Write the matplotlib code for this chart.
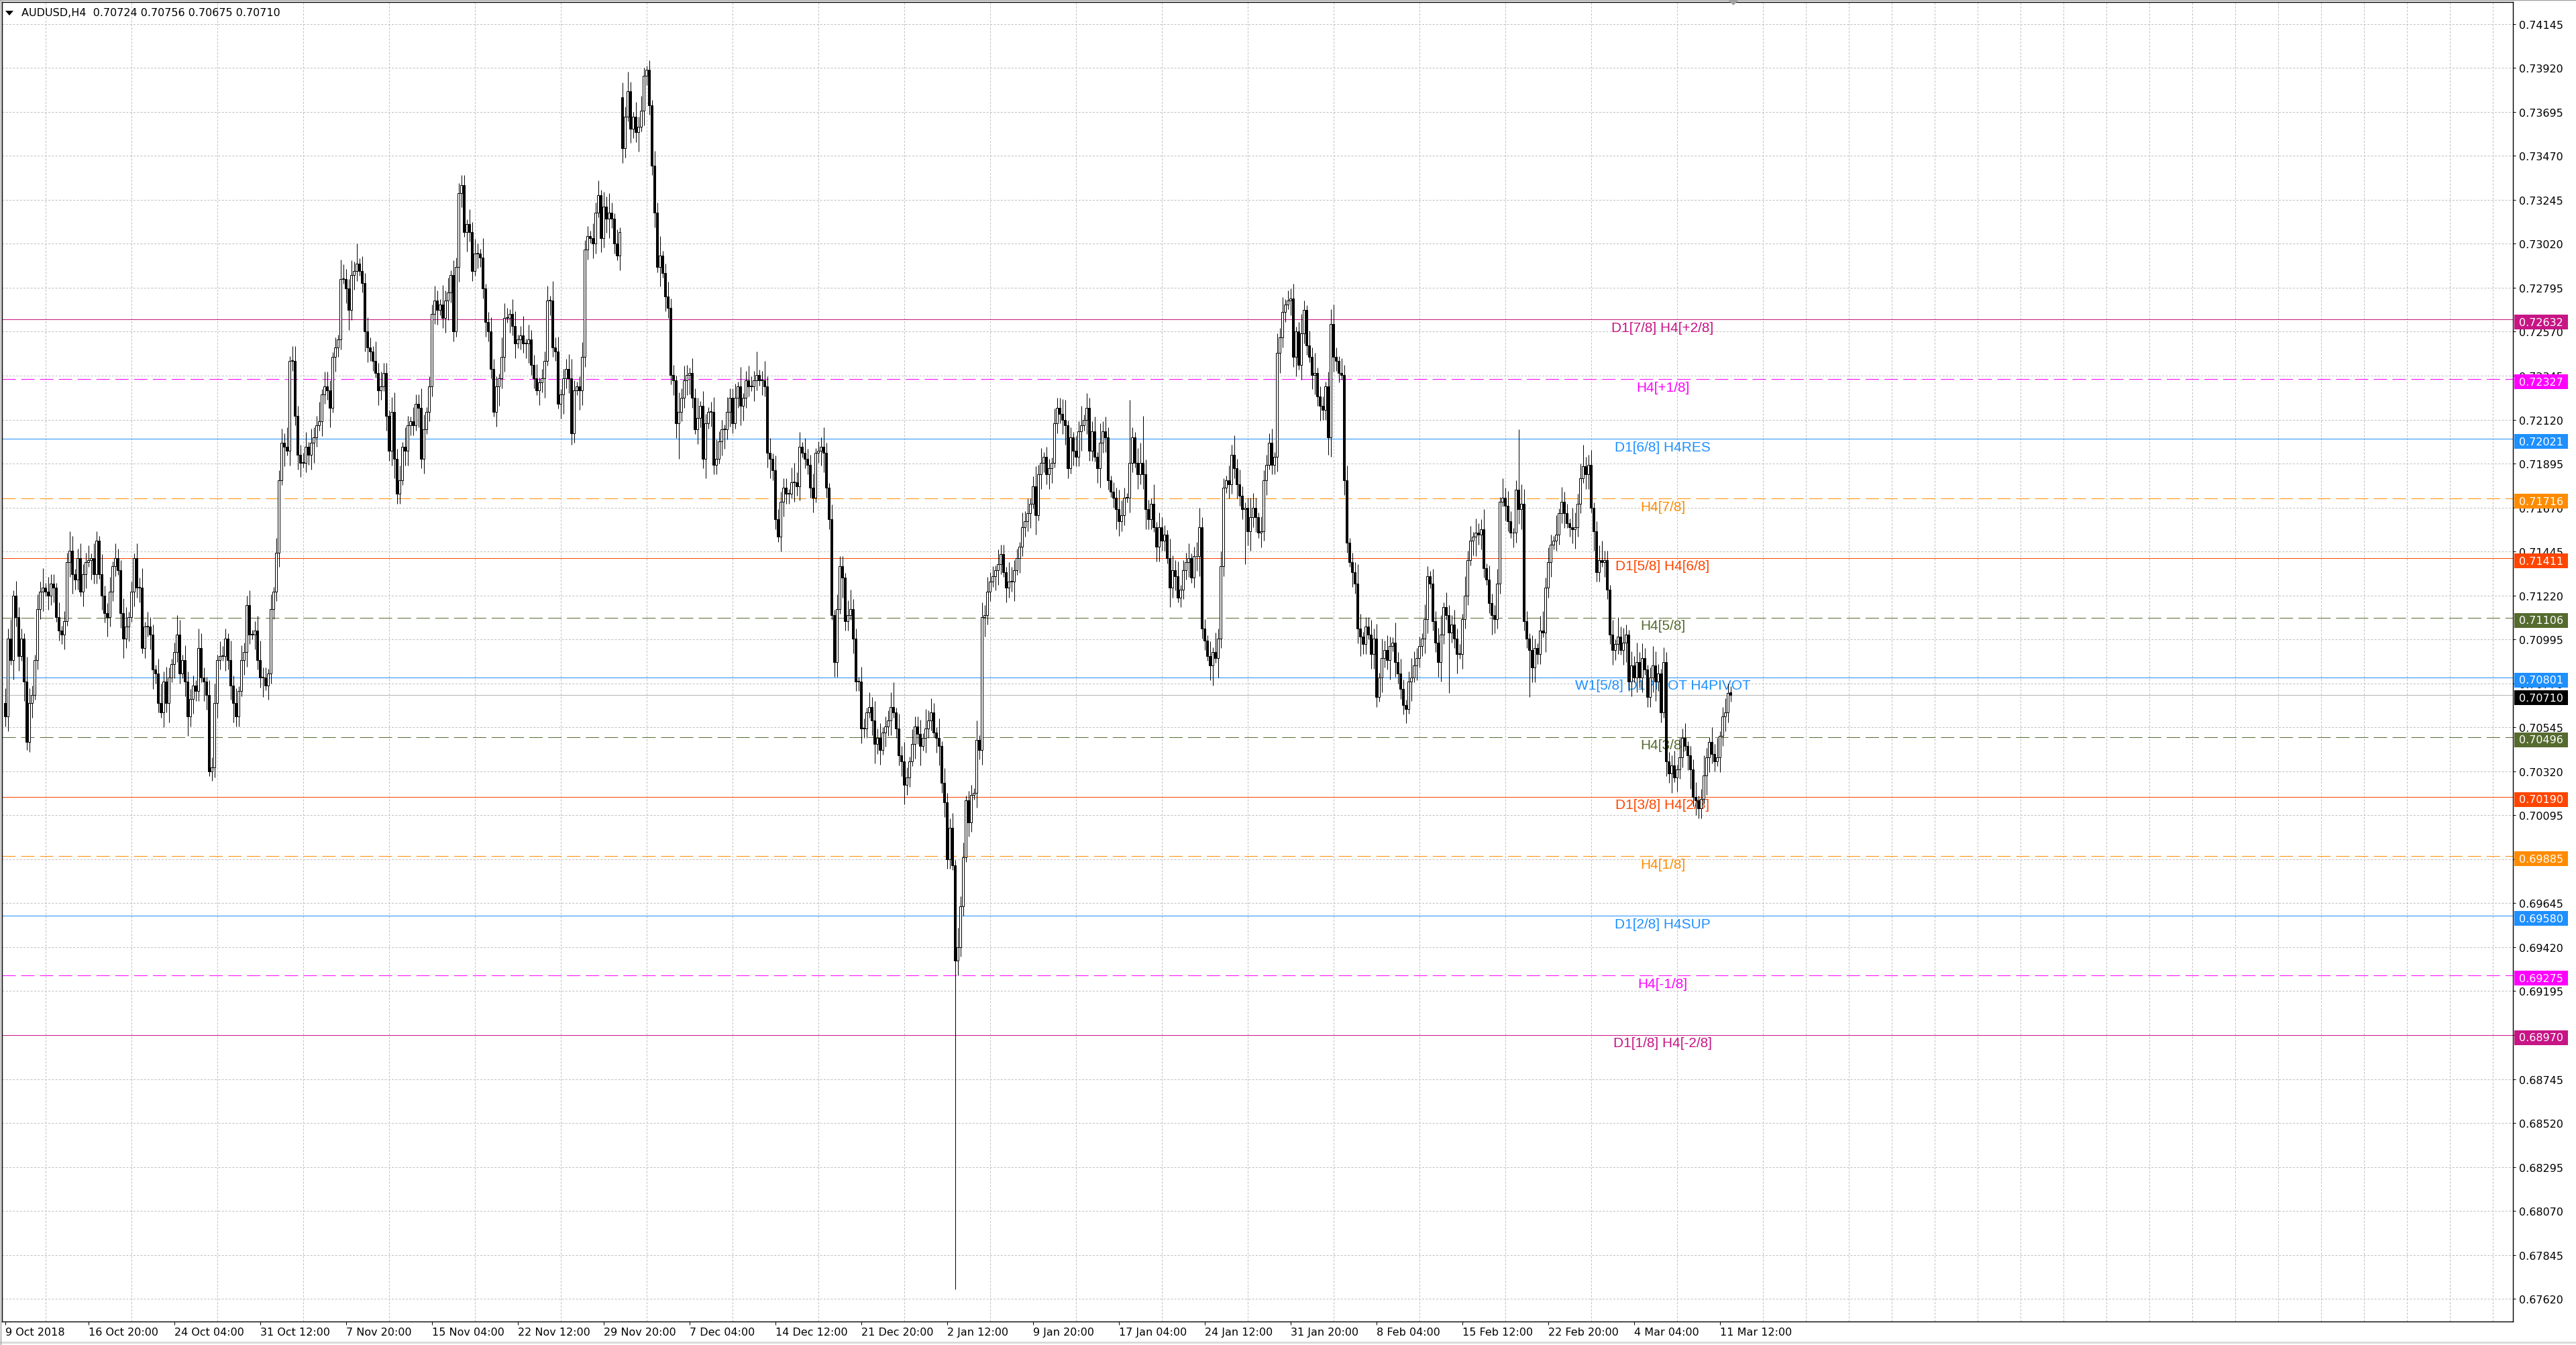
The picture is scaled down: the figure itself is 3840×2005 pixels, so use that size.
"""AUDUSD H4 candlestick chart with Murrey-math style levels (MT4 look)."""

import numpy as np
import matplotlib

matplotlib.use("Agg")
import matplotlib.pyplot as plt
from matplotlib.lines import Line2D
from matplotlib.patches import Polygon, Rectangle
from matplotlib.transforms import blended_transform_factory

# ---------------------------------------------------------------- data
TITLE = "AUDUSD,H4  0.70724 0.70756 0.70675 0.70710"

# bar closes in pips (0.0001), one value per H4 bar
CLOSE_PIPS = [
    7060, 7100, 7089, 7122, 7111, 7091, 7100, 7078, 7047, 7067,
    7071, 7089, 7115, 7124, 7126, 7124, 7122, 7128, 7126, 7111,
    7104, 7102, 7109, 7139, 7145, 7133, 7130, 7141, 7124, 7133,
    7139, 7140, 7141, 7133, 7150, 7133, 7122, 7113, 7111, 7124,
    7137, 7141, 7135, 7113, 7100, 7106, 7111, 7124, 7141, 7126,
    7126, 7095, 7106, 7106, 7102, 7084, 7082, 7067, 7062, 7078,
    7067, 7080, 7087, 7093, 7102, 7082, 7089, 7078, 7060, 7069,
    7076, 7073, 7095, 7080, 7078, 7071, 7032, 7034, 7067, 7089,
    7091, 7091, 7100, 7089, 7076, 7067, 7060, 7073, 7089, 7093,
    7117, 7102, 7102, 7104, 7089, 7080, 7080, 7076, 7082, 7115,
    7124, 7144, 7181, 7200, 7198, 7196, 7242, 7242, 7214, 7194,
    7190, 7190, 7198, 7194, 7200, 7203, 7209, 7211, 7225, 7229,
    7227, 7218, 7244, 7249, 7253, 7284, 7284, 7279, 7268, 7286,
    7288, 7292, 7288, 7282, 7257, 7249, 7247, 7242, 7236, 7227,
    7229, 7236, 7214, 7196, 7216, 7192, 7174, 7181, 7198, 7196,
    7209, 7211, 7209, 7220, 7218, 7192, 7207, 7216, 7229, 7266,
    7273, 7268, 7271, 7264, 7273, 7277, 7286, 7257, 7290, 7328,
    7332, 7308, 7312, 7308, 7288, 7297, 7297, 7295, 7279, 7262,
    7257, 7238, 7216, 7229, 7233, 7244, 7264, 7264, 7266, 7260,
    7251, 7253, 7255, 7251, 7251, 7253, 7240, 7233, 7227, 7231,
    7233, 7242, 7273, 7273, 7249, 7247, 7220, 7225, 7233, 7238,
    7233, 7205, 7227, 7229, 7227, 7244, 7299, 7306,
    7305, 7302,
    7318, 7327, 7305, 7321, 7315, 7318, 7315, 7302, 7296, 7308,
    7351, 7367, 7380, 7361, 7367, 7359, 7362, 7370, 7388, 7391,
    7373, 7342, 7318, 7290, 7296, 7287, 7275, 7269, 7235, 7232,
    7210, 7216, 7223, 7232, 7235, 7236, 7223, 7207, 7213, 7219,
    7192, 7210, 7216, 7216, 7189, 7192, 7201, 7207, 7207, 7216,
    7223, 7210, 7223, 7229, 7219, 7223, 7232, 7229, 7229, 7232,
    7235, 7232, 7232, 7229, 7195, 7192, 7186, 7161, 7152, 7170,
    7177, 7174, 7174, 7180, 7180, 7178, 7198, 7195, 7192, 7189,
    7177, 7172, 7195, 7196, 7198, 7195, 7177, 7161, 7112, 7088,
    7115, 7137, 7131, 7109, 7112, 7115, 7100, 7078, 7078, 7054,
    7054, 7062, 7065, 7058, 7046, 7049, 7043, 7052, 7055, 7058,
    7065, 7062, 7054, 7040, 7037, 7025, 7029, 7037, 7046, 7055,
    7051, 7045, 7049, 7054, 7058, 7062, 7052, 7049, 7045, 7026,
    7016, 6987, 7003, 6984, 6935, 6942, 6963, 6988, 7017, 7006,
    7020, 7021, 7048, 7043, 7111, 7112, 7124, 7129, 7132, 7135,
    7138, 7143, 7134, 7126, 7129, 7129, 7135, 7141, 7147, 7157,
    7160, 7164, 7169, 7178, 7163, 7184, 7190, 7193, 7184, 7187,
    7190, 7210, 7218, 7215, 7212, 7209, 7187, 7203, 7196, 7193,
    7206, 7209, 7212, 7218, 7196, 7206, 7193, 7187, 7200, 7206,
    7203, 7181, 7175, 7172, 7166, 7160, 7163, 7172, 7172, 7190,
    7203, 7190, 7184, 7190, 7184, 7166, 7161, 7169, 7157, 7147,
    7157, 7150, 7153, 7141, 7126, 7135, 7132, 7121,
    7125, 7135,
    7139, 7141, 7131, 7142, 7142, 7157, 7105, 7099, 7091, 7086,
    7093, 7090, 7100, 7137, 7177, 7181, 7179, 7194, 7187, 7179,
    7173, 7166, 7167, 7155, 7162, 7167, 7162, 7154, 7155, 7181,
    7189, 7200, 7189, 7193, 7246, 7254, 7267, 7271, 7273, 7274,
    7244, 7257, 7240, 7256, 7268, 7250, 7244, 7235, 7236, 7224,
    7219, 7217, 7229, 7203, 7261, 7244, 7242, 7236, 7235, 7181,
    7149, 7139, 7134, 7128, 7105, 7101, 7097, 7106, 7102, 7092,
    7100, 7070, 7080, 7090, 7094, 7089, 7096, 7098, 7088, 7082,
    7074, 7066, 7064, 7078, 7080, 7086, 7090, 7096, 7100, 7110,
    7132, 7128, 7109, 7098, 7088, 7102, 7116, 7112, 7103, 7107,
    7100, 7092, 7092, 7110, 7122, 7140, 7150, 7152, 7154, 7153,
    7156, 7136, 7130, 7118, 7112, 7110, 7128, 7170, 7172, 7168,
    7160, 7154, 7154, 7176, 7166, 7169, 7109, 7100, 7094, 7085,
    7095, 7092, 7104, 7103, 7126, 7139, 7148, 7150, 7153, 7164,
    7170, 7164, 7159, 7157, 7156, 7157, 7169, 7182, 7188, 7184,
    7189, 7167, 7155, 7134, 7140, 7139, 7140, 7125, 7102, 7094,
    7097, 7101, 7094, 7098, 7102, 7078, 7086, 7080, 7088, 7080,
    7090, 7084, 7070, 7080, 7086, 7078, 7082, 7062, 7088, 7037,
    7031, 7035, 7029, 7033, 7039, 7049, 7045, 7040, 7033, 7019,
    7017, 7013, 7018, 7030, 7039, 7047, 7041, 7037, 7039, 7050,
    7060, 7062, 7072, 7071,
]
FIRST_OPEN = 0.70670

# wick lengths per bar, one digit per bar, in units of 2.5 pips
UPPER_WICK = (
    "3241322153 2132413221 3122431232 2313214223 1322341213 "
    "2413221342 3212431322 2143213241 3221423132 2312342213 "
    "1323241332 2231322413 3212143223 2413232142 3221342314 "
    "2132243122 3214231322 4213232141 2322143213 3124132231 "
    "2231423122 3421232213 2313242131 3242132314 2132412322 "
    "1423213241 3212342213 2231412322 3124231322 2213423132 "
    "2312242131 3221342213 2132423122 3213242132 2314232141 "
    "3223142312 2141323221 3221432213 2312423122 1322341213 "
    "2413223142 3212243213 2134232141 3221432312 2312342213 "
    "1423213242 3212432132 2231423122 3124213241 2213342132 "
    "3122431223 2314232142 3212432213 2132341322 3221423132 "
    "2413223142 3212243213 2134232141 3221432312 2312342213 "
    "1423213242 3212432132 2231423122 3124213241 2321"
)
LOWER_WICK = (
    "2314231422 3122413231 2231342213 3142213242 2213423132 "
    "3122342213 2413221342 3221431223 2132342213 3213224132 "
    "2231413223 3122342132 2413221342 3212432213 2132342213 "
    "3221423122 2312342213 3142213223 2213423132 3122342213 "
    "2413221342 3221432213 2132342213 3213224132 2231413223 "
    "3122342132 2413221342 3212432213 2132342213 3221423122 "
    "2312342213 3142213223 2213423132 3122342213 2413221342 "
    "3221432213 2132342213 3213224132 2231413223 3122342132 "
    "2413221342 3212432213 2132342213 3221423122 2312342213 "
    "3142213223 2213423132 3122342213 2413221342 3221432213 "
    "2132342213 3213224132 2231413223 3122342132 2413221342 "
    "3212432213 2132342213 3221423122 2312342213 3142213223 "
    "2213423132 3122342213 2413221342 3221432213 2322"
)
WICK_UNIT = 0.00025

# bars whose open, high or low stands out from the pattern above
OPEN_FIX_BARS = [230, 643]
OPEN_FIX_VALS = [0.73770, 0.70724]
HIGH_FIX_BARS = [170, 238, 239, 280, 331, 419, 424, 564, 588, 643]
HIGH_FIX_VALS = [0.73370, 0.73920, 0.73930, 0.72470, 0.70775, 0.72220, 0.72140,
                 0.72070, 0.71990, 0.70756]
LOW_FIX_BARS = [8, 211, 251, 354, 450, 462, 493, 538, 568, 643]
LOW_FIX_VALS = [0.70430, 0.71990, 0.71920, 0.67670, 0.70760, 0.71380, 0.71940,
                0.70720, 0.70700, 0.70675]

X_TICK_BARS = [0, 31, 63, 95, 127, 159, 191, 223, 255, 287, 319,
               351, 383, 415, 447, 479, 511, 543, 575, 607, 639]
X_TICK_LABELS = [
    "9 Oct 2018", "16 Oct 20:00", "24 Oct 04:00", "31 Oct 12:00", "7 Nov 20:00",
    "15 Nov 04:00", "22 Nov 12:00", "29 Nov 20:00", "7 Dec 04:00", "14 Dec 12:00",
    "21 Dec 20:00", "2 Jan 12:00", "9 Jan 20:00", "17 Jan 04:00", "24 Jan 12:00",
    "31 Jan 20:00", "8 Feb 04:00", "15 Feb 12:00", "22 Feb 20:00", "4 Mar 04:00",
    "11 Mar 12:00",
]
Y_TICKS = [
    0.67620, 0.67845, 0.68070, 0.68295, 0.68520, 0.68745, 0.68970, 0.69195,
    0.69420, 0.69645, 0.69870, 0.70095, 0.70320, 0.70545, 0.70770, 0.70995,
    0.71220, 0.71445, 0.71670, 0.71895, 0.72120, 0.72345, 0.72570, 0.72795,
    0.73020, 0.73245, 0.73470, 0.73695, 0.73920, 0.74145,
]

LEVEL_PRICES = [0.72632, 0.72327, 0.72021, 0.71716, 0.71411, 0.71106, 0.70801,
                0.70496, 0.70190, 0.69885, 0.69580, 0.69275, 0.68970]
LEVEL_NAMES = ["D1[7/8] H4[+2/8]", "H4[+1/8]", "D1[6/8] H4RES", "H4[7/8]",
               "D1[5/8] H4[6/8]", "H4[5/8]", "W1[5/8] D1PIVOT H4PIVOT", "H4[3/8]",
               "D1[3/8] H4[2/8]", "H4[1/8]", "D1[2/8] H4SUP", "H4[-1/8]",
               "D1[1/8] H4[-2/8]"]
LEVEL_COLORS = ["#C71585", "#FF00FF", "#1E90FF", "#FF8C00", "#FF4500", "#556B2F",
                "#1E90FF", "#556B2F", "#FF4500", "#FF8C00", "#1E90FF", "#FF00FF",
                "#C71585"]
LEVEL_DASHED = [False, True, False, True, False, True, False,
                True, False, True, False, True, False]
BID_PRICE = 0.70710

# ---------------------------------------------------------------- layout
W, H, DPI = 3840, 2006, 100
PLOT_L, PLOT_R, PLOT_T, PLOT_B = 3, 3746, 4, 1971   # pixels
BAR0_X, BAR_STEP = 7.5, 4.0                          # pixel of bar 0, px per bar
Y_TOP, Y_BOTTOM = 0.742573, 0.675039
LABEL_BAR = 617.75
GRID_COLOR = "#C0C0C0"
PX = 0.72                                            # one pixel in points


def main() -> None:
    plt.rcParams["font.family"] = ["DejaVu Sans"]
    plt.rcParams["lines.scale_dashes"] = False

    close = np.array(CLOSE_PIPS, dtype=float) / 1e4
    n = len(close)
    opens = np.r_[FIRST_OPEN, close[:-1]]
    for b, v in zip(OPEN_FIX_BARS, OPEN_FIX_VALS):
        opens[b] = v
    up = np.array([int(c) for c in UPPER_WICK.replace(" ", "")], float)[:n] * WICK_UNIT
    dn = np.array([int(c) for c in LOWER_WICK.replace(" ", "")], float)[:n] * WICK_UNIT
    top = np.maximum(opens, close)
    bot = np.minimum(opens, close)
    high = top + up
    low = bot - dn
    for b, v in zip(HIGH_FIX_BARS, HIGH_FIX_VALS):
        high[b] = max(v, top[b])
    for b, v in zip(LOW_FIX_BARS, LOW_FIX_VALS):
        low[b] = min(v, bot[b])

    fig = plt.figure(figsize=(W / DPI, H / DPI), dpi=DPI)
    ax = fig.add_axes([PLOT_L / W, 1 - PLOT_B / H,
                       (PLOT_R - PLOT_L) / W, (PLOT_B - PLOT_T) / H])
    ax.set_xlim((PLOT_L - BAR0_X) / BAR_STEP, (PLOT_R - BAR0_X) / BAR_STEP)
    ax.set_ylim(Y_BOTTOM, Y_TOP)

    # grid
    ax.set_axisbelow(True)
    ax.set_xticks(np.arange(15, 935, 16), minor=True)
    ax.grid(which="minor", axis="x", color=GRID_COLOR,
            linestyle=(0, (2.2, 1.6)), linewidth=PX)
    ax.grid(which="major", axis="y", color=GRID_COLOR,
            linestyle=(0, (2.2, 1.6)), linewidth=PX)
    ax.grid(which="major", axis="x", visible=False)

    # levels
    for p, name, col, dashed in zip(LEVEL_PRICES, LEVEL_NAMES, LEVEL_COLORS, LEVEL_DASHED):
        ls = (0, (14.4, 5.8)) if dashed else "-"
        ax.axhline(p, color=col, linewidth=PX, linestyle=ls, zorder=1)
        ax.annotate(name, xy=(LABEL_BAR, p), xytext=(0, -8.6),
                    textcoords="offset points", ha="center", va="center",
                    color=col, fontsize=15, family=["Liberation Sans", "DejaVu Sans"],
                    zorder=2, annotation_clip=False)
    ax.axhline(BID_PRICE, color="#B4B4B4", linewidth=PX, zorder=1)

    # candles
    x = np.arange(n)
    ax.vlines(x, low, high, color="black", linewidth=PX, zorder=3)
    body_h = np.maximum(top - bot, 0.00003)
    bull = close >= opens
    ax.bar(x[bull], body_h[bull], bottom=bot[bull], width=0.55, facecolor="white",
           edgecolor="black", linewidth=PX, zorder=4)
    ax.bar(x[~bull], body_h[~bull], bottom=bot[~bull], width=0.55, facecolor="black",
           edgecolor="black", linewidth=PX, zorder=4)

    # axes, ticks
    for sp in ax.spines.values():
        sp.set_color("black")
        sp.set_linewidth(1.0)
    ax.yaxis.tick_right()
    ax.set_yticks(Y_TICKS)
    ax.set_yticklabels([f"{v:.5f}" for v in Y_TICKS])
    ax.set_xticks(X_TICK_BARS)
    ax.set_xticklabels(X_TICK_LABELS, ha="left")
    ax.tick_params(axis="y", which="major", direction="out", length=3, width=PX,
                   pad=3.6, labelsize=11.5, colors="black")
    ax.tick_params(axis="x", which="major", direction="out", length=3.6, width=PX,
                   pad=2.5, labelsize=11.5, colors="black")
    ax.tick_params(axis="x", which="minor", length=0)

    # price boxes on the right scale
    ppu = (PLOT_B - PLOT_T) / (Y_TOP - Y_BOTTOM)       # pixels per price unit
    axw = PLOT_R - PLOT_L
    tr = blended_transform_factory(ax.transAxes, ax.transData)
    boxes = list(zip(LEVEL_PRICES, LEVEL_COLORS)) + [(BID_PRICE, "black")]
    boxes.sort(key=lambda t: -t[0])
    prev_bottom = None
    for p, col in boxes:
        top_px = -7.0
        if prev_bottom is not None:
            gap = (prev_bottom - p) * ppu
            if -gap > top_px:
                top_px = -gap
        y_top = p - top_px / ppu
        y_bot = y_top - 22 / ppu
        prev_bottom = y_bot
        ax.add_patch(Rectangle((1 + 2 / axw, y_bot), 80 / axw, 22 / ppu,
                               transform=tr, clip_on=False, facecolor=col,
                               edgecolor="none", zorder=10))
        ax.text(1 + 9 / axw, (y_top + y_bot) / 2, f"{p:.5f}", transform=tr,
                ha="left", va="center", color="white", fontsize=11.5,
                clip_on=False, zorder=11)

    # header and window decorations
    fig.text(32 / W, 1 - 20 / H, TITLE, ha="left", va="center",
             fontsize=11.5, color="black")
    fig.add_artist(Polygon([(8 / W, 1 - 17 / H), (20 / W, 1 - 17 / H), (14 / W, 1 - 24 / H)],
                           closed=True, facecolor="black", edgecolor="none",
                           transform=fig.transFigure))
    fig.add_artist(Polygon([(2576 / W, 1 - 1 / H), (2592 / W, 1 - 1 / H), (2584 / W, 1 - 9 / H)],
                           closed=True, facecolor="#A0A0A0", edgecolor="none",
                           transform=fig.transFigure))
    fig.add_artist(Line2D([0, 1], [1 - 2002 / H] * 2, color="#D8D8D8", linewidth=2,
                          transform=fig.transFigure))
    fig.add_artist(Line2D([0, 1], [1 - 0.5 / H] * 2, color="#A0A0A0", linewidth=1,
                          transform=fig.transFigure))
    fig.add_artist(Line2D([0.5 / W] * 2, [0, 1], color="#A0A0A0", linewidth=1,
                          transform=fig.transFigure))

    fig.savefig("out.png", dpi=DPI, facecolor="white")


if __name__ == "__main__":
    main()
